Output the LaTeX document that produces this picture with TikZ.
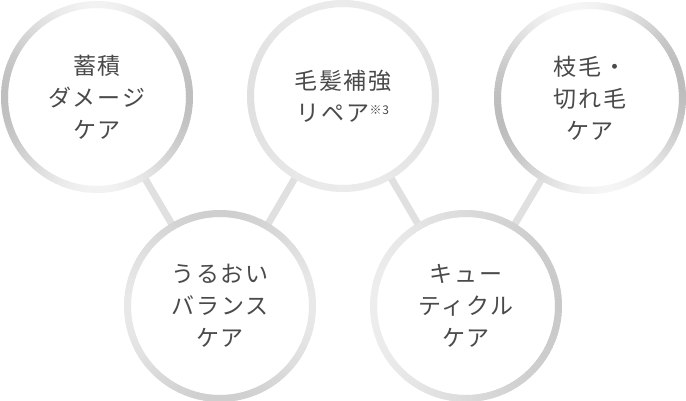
\documentclass[tikz,border=0pt]{standalone}
\usepackage{fontspec}
\newfontfamily\jp[LetterSpace=8]{Noto Sans CJK JP}
\usetikzlibrary{calc,backgrounds}
\definecolor{txt}{HTML}{4A4A4A}
\definecolor{conn}{HTML}{E0E0E0}
\tikzset{
  disc/.style={circle, fill=white, minimum size=180pt, inner sep=0pt, text=txt,
    font=\jp\fontsize{23}{32}\selectfont, align=center},
  link/.style={line width=7pt, draw=conn},
}
\newcommand{\silverring}[2]{%
  \foreach \a in {0,2,...,358}{%
    \pgfmathsetmacro\L{#2}%
    \draw[line width=7pt, color=white!\L!black]
      ($(#1.center)+(\a:92.5)$) arc[start angle=\a, delta angle=2.6, radius=92.5];
  }}
\begin{document}
\begin{tikzpicture}[x=1pt,y=1pt]
\useasboundingbox (0,0) rectangle (686,400);
\node[disc] (c1) at (97,303) {蓄積\\ダメージ\\ケア};
\node[disc] (c2) at (343,304) {毛髪補強\\リペア{\fontsize{12}{12}\selectfont\raisebox{7pt}{※3}}};
\node[disc] (c3) at (590,302) {枝毛・\\切れ毛\\ケア};
\node[disc] (c4) at (220,94) {うるおい\\バランス\\ケア};
\node[disc] (c5) at (466,94) {キュー\\ティクル\\ケア};
\begin{scope}[on background layer]
  \draw[link] (c1.center) -- (c4.center);
  \draw[link] (c2.center) -- (c4.center);
  \draw[link] (c2.center) -- (c5.center);
  \draw[link] (c3.center) -- (c5.center);
\end{scope}
\silverring{c1}{85+10*cos(2*(\a-90))}
\silverring{c2}{90+2*cos(2*(\a-90))}
\silverring{c3}{85+11*cos(2*(\a-100))}
\silverring{c4}{86+5*cos(2*\a)}
\silverring{c5}{86+7*cos(\a-180)}
\end{tikzpicture}
\end{document}
